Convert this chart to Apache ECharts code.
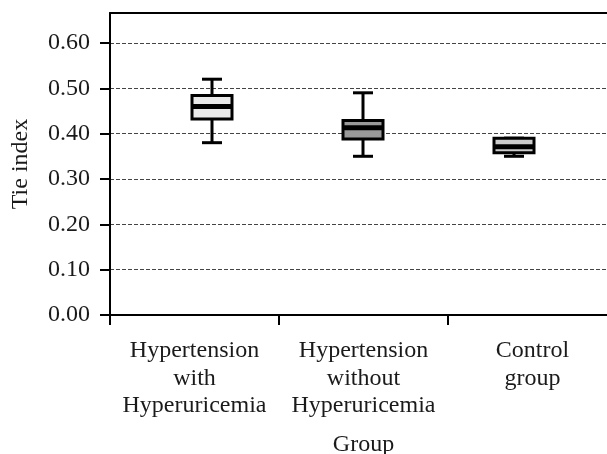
<!DOCTYPE html>
<html><head><meta charset="utf-8">
<script src="https://cdn.jsdelivr.net/npm/echarts@6/dist/echarts.min.js"></script>
<style>html,body{margin:0;padding:0;background:#fff}#c{width:607px;height:454px}</style>
</head><body><div id="c"></div>
<script>
const categories = ['Hypertension\nwith\nHyperuricemia', 'Hypertension\nwithout\nHyperuricemia', 'Control\ngroup'];
const lowValues = [0.38, 0.35, 0.35];
const q1Values = [0.432, 0.388, 0.358];
const medianValues = [0.460, 0.413, 0.371];
const q3Values = [0.484, 0.429, 0.390];
const highValues = [0.52, 0.49, 0.39];
const yTickValues = [0, 0.1, 0.2, 0.3, 0.4, 0.5, 0.6];

const fills = ['#e9e9e9', '#999999', '#cccccc'];
const font = 'Liberation Serif';
const txt = '#1a1a1a';

const boxData = categories.map((c, i) => [i, lowValues[i], q1Values[i], medianValues[i], q3Values[i], highValues[i]]);

const chart = echarts.init(document.getElementById('c'), null, {renderer: 'canvas'});
chart.setOption({
  animation: false,
  backgroundColor: '#fff',
  textStyle: {fontFamily: font, color: txt},
  grid: [
    {left: 110, top: 13, width: 507, height: 302, outerBoundsMode: 'none', containLabel: false},
    {left: 136.5, top: 13, width: 453, height: 302, outerBoundsMode: 'none', containLabel: false}
  ],
  xAxis: [
    {
      gridIndex: 0, type: 'category', data: categories, position: 'bottom',
      boundaryGap: true,
      axisLine: {show: true, lineStyle: {color: '#000', width: 2}},
      axisTick: {show: true, interval: 0, length: 10, lineStyle: {color: '#000', width: 2}},
      axisLabel: {interval: 0, fontFamily: font, fontSize: 24, lineHeight: 27.5, color: txt, margin: 22},
      splitLine: {show: false},
      name: 'Group', nameLocation: 'middle', nameGap: 118,
      nameTextStyle: {fontFamily: font, fontSize: 24, color: txt}
    },
    {
      gridIndex: 0, type: 'category', data: categories, position: 'top',
      axisLine: {show: true, lineStyle: {color: '#000', width: 2}},
      axisTick: {show: false}, axisLabel: {show: false}, splitLine: {show: false}
    },
    {
      gridIndex: 1, type: 'category', data: categories, show: false
    }
  ],
  yAxis: [
    {
      gridIndex: 0, type: 'value', min: 0, max: 0.666, interval: 0.1,
      axisLine: {show: true, lineStyle: {color: '#000', width: 2}},
      axisTick: {show: true, length: 10, customValues: yTickValues, lineStyle: {color: '#000', width: 2}},
      axisLabel: {customValues: yTickValues, formatter: v => v.toFixed(2), fontFamily: font, fontSize: 24, color: txt, margin: 20},
      splitLine: {show: true, lineStyle: {color: '#444', width: 1, type: [4, 2]}},
      name: 'Tie index', nameLocation: 'middle', nameGap: 77, nameRotate: 90,
      nameTextStyle: {fontFamily: font, fontSize: 24, color: txt}
    },
    {
      gridIndex: 1, type: 'value', min: 0, max: 0.666, show: false
    }
  ],
  series: [{
    type: 'custom',
    xAxisIndex: 2, yAxisIndex: 1,
    data: boxData,
    encode: {x: 0, y: [1, 2, 3, 4, 5]},
    renderItem: function (params, api) {
      const i = api.value(0);
      const x = api.coord([i, api.value(3)])[0];
      const yLow = api.coord([i, api.value(1)])[1];
      const yQ1 = api.coord([i, api.value(2)])[1];
      const yMed = api.coord([i, api.value(3)])[1];
      const yQ3 = api.coord([i, api.value(4)])[1];
      const yHigh = api.coord([i, api.value(5)])[1];
      const hw = 20, cw = 10;
      const ls = {stroke: '#000', lineWidth: 3};
      return {
        type: 'group',
        children: [
          {type: 'line', shape: {x1: x, y1: yLow, x2: x, y2: yQ1}, style: ls},
          {type: 'line', shape: {x1: x, y1: yQ3, x2: x, y2: yHigh}, style: ls},
          {type: 'line', shape: {x1: x - cw, y1: yLow, x2: x + cw, y2: yLow}, style: ls},
          {type: 'line', shape: {x1: x - cw, y1: yHigh, x2: x + cw, y2: yHigh}, style: ls},
          {type: 'rect', shape: {x: x - hw, y: yQ3, width: 2 * hw, height: yQ1 - yQ3},
           style: {fill: fills[params.dataIndex], stroke: '#000', lineWidth: 3}},
          {type: 'line', shape: {x1: x - hw, y1: yMed, x2: x + hw, y2: yMed}, style: {stroke: '#000', lineWidth: 5}}
        ]
      };
    }
  }]
});
</script>
</body></html>
